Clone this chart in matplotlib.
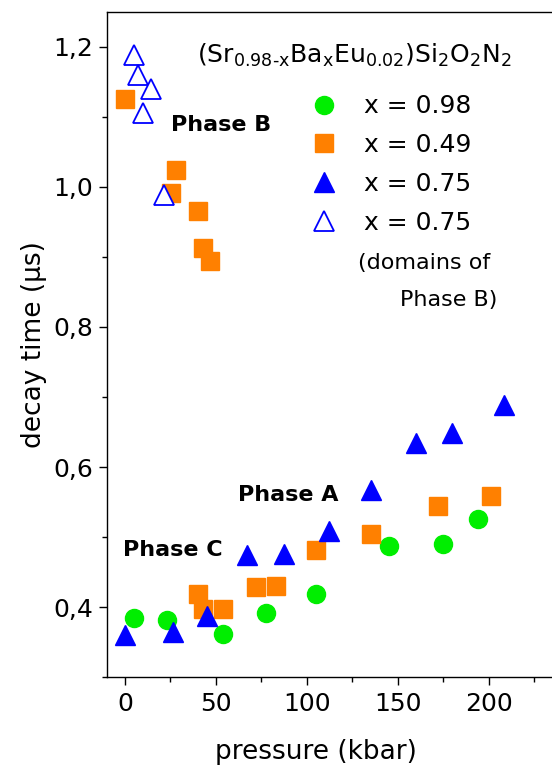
import numpy as np
import matplotlib
matplotlib.use("Agg")
import matplotlib.pyplot as plt
from matplotlib.ticker import MultipleLocator, FuncFormatter

# decay time vs pressure for (Sr,Ba,Eu)Si2O2N2
p_098 = [4.9, 22.9, 54.1, 77.3, 105, 145, 175, 194]
t_098 = [0.384, 0.382, 0.361, 0.391, 0.419, 0.487, 0.490, 0.526]

p_049 = [0, 28.2, 25.5, 39.9, 43.1, 46.6,
         39.9, 43.1, 53.8, 72.2, 83.2, 105, 135, 172, 201]
t_049 = [1.126, 1.024, 0.991, 0.965, 0.913, 0.894,
         0.419, 0.397, 0.397, 0.429, 0.430, 0.482, 0.504, 0.545, 0.558]

p_075 = [0, 26.2, 45.3, 67.3, 87.2, 112, 135, 159.7, 179.9, 208.2]
t_075 = [0.360, 0.364, 0.387, 0.475, 0.476, 0.509, 0.567, 0.634, 0.649, 0.689]

# x = 0.75, domains of phase B
p_075b = [5.2, 7.0, 14.1, 10.1, 21.3]
t_075b = [1.188, 1.160, 1.140, 1.106, 0.989]

plt.rcParams['font.family'] = 'DejaVu Sans'

fig = plt.figure(figsize=(5.52, 7.67), dpi=100)
ax = fig.add_axes([0.1933, 0.1173, 0.8243, 0.8671])

green = '#00ee00'
orange = '#ff8000'
blue = '#0000ff'

ax.plot(p_098, t_098, 'o', ms=13, color=green, mec=green, label='x = 0.98')
ax.plot(p_049, t_049, 's', ms=13, color=orange, mec=orange, label='x = 0.49')
ax.plot(p_075, t_075, '^', ms=15, color=blue, mec=blue, label='x = 0.75')
ax.plot(p_075b, t_075b, '^', ms=15, mfc='white', mec=blue, mew=1.3,
        label='x = 0.75')

ax.set_xlim(-10, 240)
ax.set_ylim(0.3, 1.25)

ax.xaxis.set_major_locator(MultipleLocator(50))
ax.xaxis.set_minor_locator(MultipleLocator(25))
ax.yaxis.set_major_locator(MultipleLocator(0.2))
ax.yaxis.set_minor_locator(MultipleLocator(0.1))
ax.yaxis.set_major_formatter(FuncFormatter(lambda v, pos: f"{v:.1f}".replace('.', ',')))

ax.tick_params(which='both', direction='out', width=1, labelsize=18)
ax.tick_params(which='major', length=6, pad=4)
ax.tick_params(which='minor', length=3.6)
ax.tick_params(axis='x', pad=5)
ax.spines['right'].set_visible(False)
for s in ('left', 'bottom', 'top'):
    ax.spines[s].set_linewidth(1)

ax.set_xlabel('pressure (kbar)', fontsize=19, va='top')
ax.xaxis.set_label_coords(0.46, -0.093)
ax.set_ylabel('decay time (µs)', fontsize=19)

ax.text(0.1985, 0.923,
        r'(Sr$_{0.98\text{-x}}$Ba$_\mathrm{x}$Eu$_{0.02}$)Si$_2$O$_2$N$_2$',
        transform=ax.transAxes, fontsize=18, va='baseline', ha='left')

ax.legend(loc='upper left', bbox_to_anchor=(0.445, 0.876), frameon=False,
          fontsize=18, handlelength=1.2, handletextpad=1.0,
          labelspacing=0.59, borderpad=0, borderaxespad=0)

ax.text(0.552, 0.6226, '(domains of', transform=ax.transAxes,
        fontsize=16, ha='left', va='center')
ax.text(0.645, 0.5669, 'Phase B)', transform=ax.transAxes,
        fontsize=16, ha='left', va='center')

ax.text(25.1, 1.089, 'Phase B', fontsize=16, fontweight='bold', ha='left', va='center')
ax.text(61.9, 0.560, 'Phase A', fontsize=16, fontweight='bold', ha='left', va='center')
ax.text(-1.3, 0.482, 'Phase C', fontsize=16, fontweight='bold', ha='left', va='center')

fig.savefig('out.png', dpi=100)
